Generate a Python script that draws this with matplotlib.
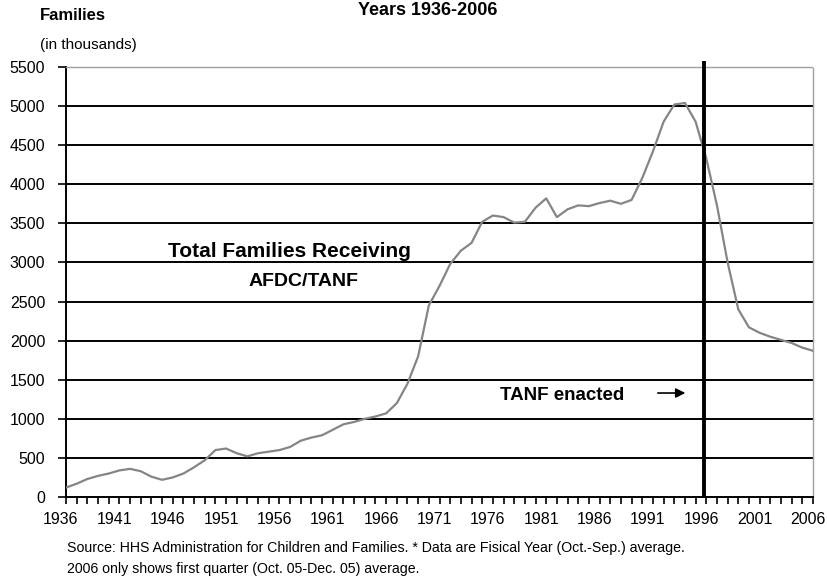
import matplotlib
matplotlib.use("Agg")
import matplotlib.pyplot as plt
import matplotlib.transforms as mtransforms
import numpy as np

plt.rcParams['font.family'] = ['Liberation Sans', 'DejaVu Sans']

years = list(range(1936, 2007))
families = [
    120, 170, 230, 270, 300, 340, 360, 330, 260, 220,      # 1936-1945
    250, 300, 380, 470, 600, 620, 560, 520, 560, 580,      # 1946-1955
    600, 640, 720, 760, 790, 860, 930, 960, 1000, 1030,    # 1956-1965
    1070, 1200, 1450, 1800, 2450, 2700, 2980, 3150, 3250, 3520,  # 1966-1975
    3600, 3580, 3510, 3520, 3700, 3820, 3580, 3680, 3730, 3720,  # 1976-1985
    3760, 3790, 3750, 3800, 4080, 4420, 4800, 5020, 5040, 4800,  # 1986-1995
    4330, 3730, 3000, 2400, 2170, 2100, 2050, 2010, 1970, 1910,  # 1996-2005
    1870,                                                   # 2006
]
tick_years = list(range(1936, 2007, 5))
y_ticks = list(range(0, 5501, 500))
tanf_year = 1995.8

W, H = 828, 578
fig = plt.figure(figsize=(W / 100, H / 100), dpi=100)
ax = fig.add_axes([66 / W, 1 - 497 / H, (813 - 66) / W, (497 - 67) / H])

ax.set_xlim(1936, 2006)
ax.set_ylim(0, 5500)

# horizontal gridlines
for yv in y_ticks[1:-1]:
    ax.axhline(yv, color='black', lw=1.4, zorder=1)

ax.plot(years, families, color='#858585', lw=1.6, zorder=3)

ax.plot([tanf_year, tanf_year], [0, 5580], color='black', lw=2.8,
        zorder=4, clip_on=False, solid_capstyle='butt')

for s in ['top', 'right']:
    ax.spines[s].set_color('#a0a0a0')
    ax.spines[s].set_linestyle((0, (1, 1)))
    ax.spines[s].set_linewidth(1.0)
for s in ['left', 'bottom']:
    ax.spines[s].set_color('black')
    ax.spines[s].set_linewidth(1.4)

ax.set_xticks(tick_years)
ax.set_xticks(years, minor=True)
ax.set_yticks(y_ticks)
ax.tick_params(axis='x', which='both', direction='out', length=5, width=1.2,
               labelsize=11.5, pad=6, color='black')
ax.tick_params(axis='y', direction='out', length=6, width=1.2, labelsize=11.5, pad=9)

shift = mtransforms.ScaledTranslation(-5 / 100, 0, fig.dpi_scale_trans)
for lbl in ax.get_xticklabels():
    lbl.set_transform(lbl.get_transform() + shift)

ax.text(1956.9, 3135, 'Total Families Receiving', fontsize=15,
        fontweight='bold', ha='center', va='center')
ax.text(1958.3, 2760, 'AFDC/TANF', fontsize=14, fontweight='bold',
        ha='center', va='center')
ax.text(1982.5, 1300, 'TANF enacted', fontsize=13.5, fontweight='bold',
        ha='center', va='center')
ax.annotate('', xy=(1994.3, 1330), xytext=(1991.2, 1330),
            arrowprops=dict(arrowstyle='-|>', color='black', lw=1.2,
                            mutation_scale=14))

fig.text(40 / W, 1 - 15 / H, 'Families', fontsize=12, fontweight='bold',
         ha='left', va='center')
fig.text(40 / W, 1 - 45 / H, '(in thousands)', fontsize=11,
         ha='left', va='center')
fig.text(428 / W, 1 - 2 / H, 'Years 1936-2006', fontsize=13,
         fontweight='bold', ha='center', va='top')

fig.text(67 / W, 1 - 548 / H,
         'Source: HHS Administration for Children and Families. * Data are Fisical Year (Oct.-Sep.) average.',
         fontsize=10.2, ha='left', va='center')
fig.text(67 / W, 1 - 569 / H,
         '2006 only shows first quarter (Oct. 05-Dec. 05) average.',
         fontsize=10.2, ha='left', va='center')

fig.savefig('out.png', dpi=100)
